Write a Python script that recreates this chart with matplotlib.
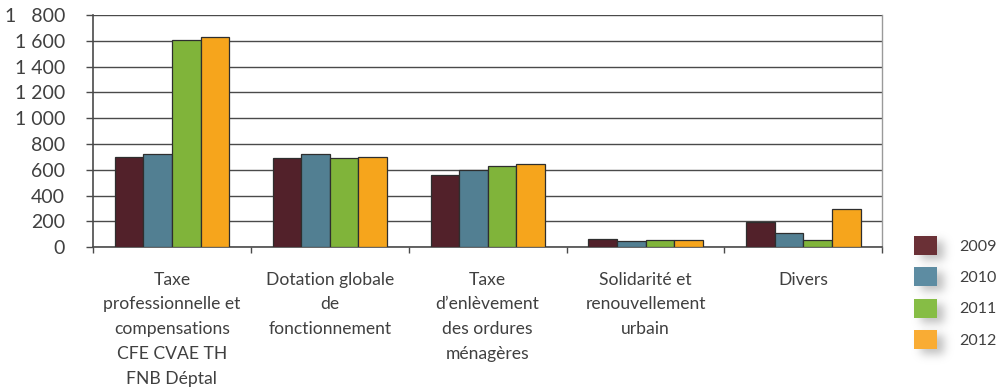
import numpy as np
import matplotlib
matplotlib.use("Agg")
import matplotlib.pyplot as plt
from matplotlib.patches import Patch
from matplotlib.ticker import FixedLocator, NullFormatter

# Recettes par poste et par année
categories = [
    "Taxe\nprofessionnelle et\ncompensations\nCFE CVAE TH\nFNB Déptal",
    "Dotation globale\nde\nfonctionnement",
    "Taxe\nd’enlèvement\ndes ordures\nménagères",
    "Solidarité et\nrenouvellement\nurbain",
    "Divers",
]
years = ["2009", "2010", "2011", "2012"]
v2009 = [700, 690, 560, 65, 195]
v2010 = [720, 720, 600, 50, 110]
v2011 = [1608, 690, 633, 55, 55]
v2012 = [1628, 700, 646, 55, 298]
series = [v2009, v2010, v2011, v2012]

ytick_values = [0, 200, 400, 600, 800, 1000, 1200, 1400, 1600, 1800]
ytick_labels = ["0", "200", "400", "600", "800", "1 000", "1 200", "1 400", "1 600", "1   800"]

bar_colors = ["#52212a", "#527f92", "#80b43a", "#f6a51c"]
legend_colors = ["#6a3036", "#5d8ca2", "#86bd45", "#f9ac34"]
text_color = "#404040"
line_color = "#4a4a4a"

plt.rcParams["font.family"] = ["Lato", "DejaVu Sans"]

W, H = 1004, 387
fig = plt.figure(figsize=(W / 100, H / 100), dpi=100)
ax = fig.add_axes([93 / W, 1 - 247.3 / H, (882.3 - 93) / W, (247.3 - 15) / H])

n = len(categories)
x = np.arange(n)
bw = 0.181
for i, vals in enumerate(series):
    ax.bar(x + (i - 1.5) * bw, vals, width=bw, color=bar_colors[i],
           edgecolor="#2e2e2e", linewidth=0.9, zorder=3)

ax.set_xlim(-0.5, n - 0.5)
ax.set_ylim(0, 1800)

ax.set_yticks(ytick_values)
ax.set_yticklabels(ytick_labels)
ax.yaxis.grid(True, color=line_color, linewidth=1.0, zorder=0)
ax.tick_params(axis="y", direction="out", length=5, width=1, color=line_color,
               labelsize=14, labelcolor=text_color, pad=15)

# category boundaries carry the tick marks, centres carry the labels
ax.xaxis.set_major_locator(FixedLocator(np.arange(n + 1) - 0.5))
ax.xaxis.set_major_formatter(NullFormatter())
ax.xaxis.set_minor_locator(FixedLocator(x))
ax.set_xticklabels(categories, minor=True, fontsize=12.6, color=text_color,
                   linespacing=1.68, va="top")
ax.tick_params(axis="x", which="major", direction="out", length=4, width=1,
               color=line_color)
ax.tick_params(axis="x", which="minor", length=0, pad=17.5)

for side in ["left", "bottom"]:
    ax.spines[side].set_color(line_color)
    ax.spines[side].set_linewidth(1.2)
ax.spines["top"].set_visible(False)
ax.spines["right"].set_color("#9a9a9a")
ax.spines["right"].set_linewidth(1.0)

handles = [Patch(facecolor=c, edgecolor="none") for c in legend_colors]
leg = fig.legend(handles, years, loc="upper left",
                 bbox_to_anchor=(914 / W, 1 - 236 / H), frameon=False,
                 fontsize=11.5, handlelength=1.44, handleheight=1.44,
                 labelspacing=0.78, handletextpad=1.4, borderpad=0,
                 borderaxespad=0, labelcolor=text_color)

# soft drop shadow under the legend swatches
fig.canvas.draw()
mask = np.zeros((H, W))
dx, dy = 7, 5
for hnd in leg.legend_handles:
    bb = hnd.get_window_extent()
    x0, x1 = int(round(bb.x0)) + dx, int(round(bb.x1)) + dx
    r0, r1 = int(round(H - bb.y1)) + dy, int(round(H - bb.y0)) + dy
    mask[max(r0, 0):min(r1, H), max(x0, 0):min(x1, W)] = 1.0

sigma = 4.5
k = np.arange(-14, 15)
kern = np.exp(-k ** 2 / (2 * sigma ** 2))
kern /= kern.sum()
blur = np.apply_along_axis(lambda r: np.convolve(r, kern, mode="same"), 1, mask)
blur = np.apply_along_axis(lambda c: np.convolve(c, kern, mode="same"), 0, blur)

shadow = np.zeros((H, W, 4))
shadow[..., :3] = 0.55
shadow[..., 3] = np.clip(blur * 0.55, 0, 1)
fig.figimage(shadow, xo=0, yo=0, origin="upper", zorder=1)

fig.savefig("out.png", dpi=100)
